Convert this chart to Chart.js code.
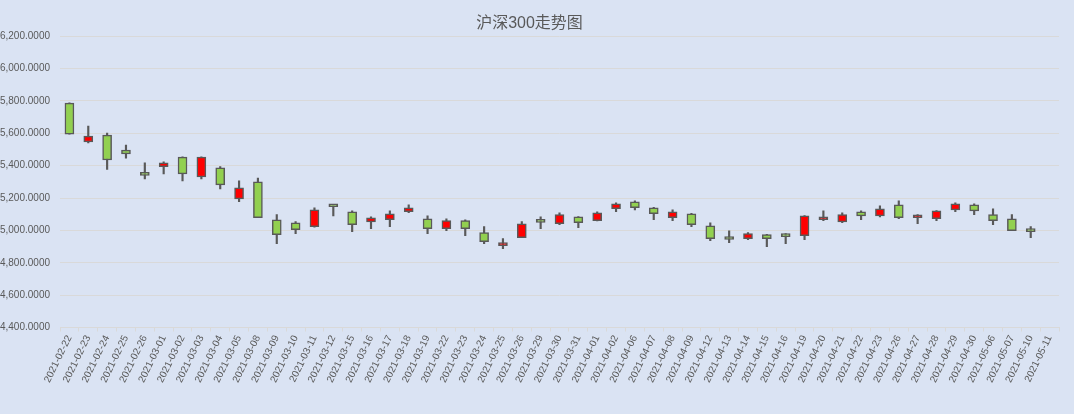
<!DOCTYPE html>
<html>
<head>
<meta charset="utf-8">
<script src="https://cdn.jsdelivr.net/npm/chart.js@4/dist/chart.umd.min.js"></script>
<style>
  html, body { margin: 0; padding: 0; background: #DAE3F3; }
  #wrap { width: 1074px; height: 414px; position: relative; }
</style>
</head>
<body>
<div id="wrap"><canvas id="kline"></canvas></div>
<script>
// 交易日
const dates = [
  "2021-02-22", "2021-02-23", "2021-02-24", "2021-02-25", "2021-02-26",
  "2021-03-01", "2021-03-02", "2021-03-03", "2021-03-04", "2021-03-05",
  "2021-03-08", "2021-03-09", "2021-03-10", "2021-03-11", "2021-03-12",
  "2021-03-15", "2021-03-16", "2021-03-17", "2021-03-18", "2021-03-19",
  "2021-03-22", "2021-03-23", "2021-03-24", "2021-03-25", "2021-03-26",
  "2021-03-29", "2021-03-30", "2021-03-31", "2021-04-01", "2021-04-02",
  "2021-04-06", "2021-04-07", "2021-04-08", "2021-04-09", "2021-04-12",
  "2021-04-13", "2021-04-14", "2021-04-15", "2021-04-16", "2021-04-19",
  "2021-04-20", "2021-04-21", "2021-04-22", "2021-04-23", "2021-04-26",
  "2021-04-27", "2021-04-28", "2021-04-29", "2021-04-30", "2021-05-06",
  "2021-05-07", "2021-05-10", "2021-05-11"
];

// 开盘 / 收盘 / 最高 / 最低 (05-11 没有数据)
const opens = [
  5786, 5546, 5589, 5497, 5345, 5394, 5453, 5330, 5386, 5195,
  5300, 5066, 5047, 5023, 5152, 5115, 5053, 5066, 5115, 5072,
  5010, 5060, 4986, 4906, 4955, 5052, 5041, 5084, 5060, 5134,
  5177, 5140, 5078, 5103, 5029, 4947, 4949, 4974, 4964, 4967,
  5066, 5053, 5115, 5090, 5158, 5078, 5072, 5127, 5158, 5097,
  5072, 5004, null
];
const closes = [
  5595, 5583, 5435, 5472, 5340, 5417, 5349, 5453, 5281, 5263,
  5078, 4974, 5004, 5127, 5146, 5035, 5078, 5103, 5140, 5010,
  5060, 5010, 4930, 4924, 5041, 5050, 5097, 5047, 5109, 5164,
  5140, 5103, 5115, 5035, 4949, 4944, 4980, 4949, 4962, 5090,
  5084, 5097, 5090, 5134, 5078, 5090, 5121, 5164, 5121, 5060,
  4998, 4992, null
];
const highs = [
  5788, 5644, 5601, 5527, 5417, 5423, 5455, 5455, 5394, 5306,
  5324, 5097, 5054, 5140, 5152, 5121, 5084, 5121, 5158, 5090,
  5072, 5066, 5023, 4949, 5054, 5084, 5109, 5086, 5115, 5170,
  5183, 5143, 5127, 5106, 5047, 4998, 4986, 4976, 4980, 5092,
  5121, 5109, 5121, 5152, 5183, 5097, 5123, 5170, 5164, 5134,
  5097, 5023, null
];
const lows = [
  5595, 5540, 5377, 5447, 5318, 5349, 5306, 5318, 5257, 5178,
  5078, 4918, 4980, 5020, 5090, 4992, 5010, 5023, 5109, 4980,
  4998, 4967, 4918, 4887, 4955, 5010, 5035, 5017, 5058, 5115,
  5127, 5066, 5060, 5023, 4937, 4924, 4943, 4900, 4918, 4943,
  5060, 5047, 5066, 5084, 5072, 5041, 5060, 5115, 5097, 5035,
  4998, 4955, null
];

const yTicks = [4400, 4600, 4800, 5000, 5200, 5400, 5600, 5800, 6000, 6200];

const UP = "#FF0000", DOWN = "#92D050", EDGE = "#595959";
const TXT = "#595959", GRID = "#D9D9D9";

const bodies = opens.map((o, i) => o == null ? null : [o, closes[i]]);
const wicks = lows.map((l, i) => l == null ? null : [l, highs[i]]);
const bodyColors = opens.map((o, i) => closes[i] >= o ? UP : DOWN);

new Chart(document.getElementById("kline"), {
  type: "bar",
  data: {
    labels: dates,
    datasets: [
      {
        label: "body",
        data: bodies,
        backgroundColor: bodyColors,
        borderColor: EDGE,
        borderWidth: 1.5,
        borderSkipped: false,
        barThickness: 9,
        minBarLength: 3,
        grouped: false,
        order: 0
      },
      {
        label: "wick",
        data: wicks,
        backgroundColor: EDGE,
        borderWidth: 0,
        barThickness: 1.5,
        grouped: false,
        order: 1
      }
    ]
  },
  options: {
    responsive: true,
    maintainAspectRatio: false,
    animation: false,
    layout: { padding: { left: 0, right: 15, top: 0, bottom: 0 } },
    plugins: {
      legend: { display: false },
      tooltip: { enabled: false },
      title: {
        display: true,
        text: "沪深300走势图",
        color: TXT,
        font: { family: "'Liberation Sans', 'Noto Sans CJK SC'", size: 16, weight: "normal" },
        padding: { top: 14, bottom: 3 }
      }
    },
    scales: {
      x: {
        offset: true,
        grid: { display: true, drawOnChartArea: false, drawTicks: true, tickLength: 4, color: GRID },
        border: { display: true, color: GRID },
        ticks: {
          autoSkip: false,
          minRotation: 64,
          maxRotation: 64,
          padding: 2,
          color: TXT,
          font: { family: "'Liberation Sans'", size: 10 }
        },
        afterFit: (s) => { s.height = 86.5; }
      },
      y: {
        min: yTicks[0],
        max: yTicks[yTicks.length - 1],
        afterBuildTicks: (s) => { s.ticks = yTicks.map(v => ({ value: v })); },
        grid: { color: GRID, drawTicks: false },
        border: { display: false },
        ticks: {
          padding: 10,
          color: TXT,
          font: { family: "'Liberation Sans'", size: 10 },
          callback: (v) => Number(v).toLocaleString("en-US", { minimumFractionDigits: 4, maximumFractionDigits: 4 })
        },
        afterFit: (s) => { s.width = 60; }
      }
    }
  }
});
</script>
</body>
</html>
